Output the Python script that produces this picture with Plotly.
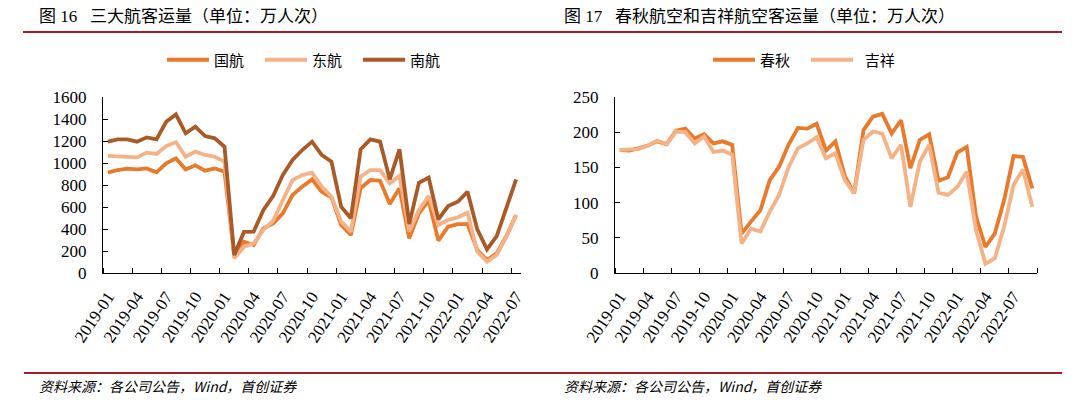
import plotly.graph_objects as go

W, H = 1077, 408
OFF = 8  # page body margin of the host page

# ---------------- data ----------------
months_left = [f"{y}-{m:02d}" for y in range(2019, 2023) for m in range(1, 13)][:43]   # 2019-01 .. 2022-07
months_right = [f"{y}-{m:02d}" for y in range(2019, 2023) for m in range(1, 13)][:45]  # 2019-01 .. 2022-09

air_china = [912, 936, 948, 942, 951, 915, 997, 1042, 942, 979, 930, 951, 921,
             160, 285, 254, 406, 451, 542, 709, 785, 851, 739, 688, 436, 345,
             770, 845, 839, 627, 770, 315, 542, 658, 294, 421, 445, 445, 209,
             118, 179, 336, 527]
china_eastern = [1064, 1057, 1057, 1051, 1094, 1082, 1154, 1191, 1057, 1103, 1073, 1057, 1012,
                 133, 239, 270, 391, 475, 664, 845, 891, 912, 785, 694, 467, 376,
                 876, 936, 936, 815, 882, 376, 573, 700, 436, 482, 506, 548, 194,
                 103, 164, 330, 527]
china_southern = [1194, 1215, 1215, 1194, 1233, 1215, 1375, 1442, 1270, 1330, 1245, 1224, 1148,
                  164, 373, 376, 573, 700, 891, 1027, 1118, 1194, 1073, 1012, 603, 497,
                  1124, 1215, 1194, 851, 1124, 445, 821, 867, 488, 609, 648, 739, 397,
                  215, 336, 588, 851]

spring = [175, 174, 177, 181, 187, 183, 202, 205, 191, 197, 184, 187, 182,
          56, 73, 89, 132, 151, 182, 206, 205, 212, 174, 187, 138, 113,
          203, 222, 226, 198, 217, 149, 189, 197, 131, 136, 171, 179, 80,
          37, 56, 104, 166, 165, 120]
juneyao = [175, 175, 176, 181, 188, 183, 201, 200, 184, 194, 172, 174, 168,
           42, 63, 59, 87, 111, 150, 177, 184, 193, 163, 170, 132, 113,
           189, 201, 198, 163, 182, 94, 158, 182, 114, 111, 122, 144, 61,
           13, 21, 66, 125, 147, 94]

left_names = ["国航", "东航", "南航"]
right_names = ["春秋", "\u00a0\u00a0吉祥"]
left_ticks = [0, 1600, 200]
right_ticks = [0, 250, 50]

title_left = "图 16\u00a0\u00a0\u00a0三大航客运量（单位：万人次）"
title_right = "图 17\u00a0\u00a0\u00a0春秋航空和吉祥航空客运量（单位：万人次）"
source_text = "资料来源：各公司公告，Wind，首创证券"

# ---------------- style ----------------
C_ORANGE = "#E97A2B"
C_LIGHT = "#F5B286"
C_BROWN = "#A95A27"
RED = "#A51C22"
SERIF = "Times New Roman, Liberation Serif, Noto Sans CJK SC, serif"
CJK = "Noto Sans CJK SC, sans-serif"

def px_x(p):
    return (p - OFF) / W

def px_y(p):
    return 1 - (p - OFF) / H

fig = go.Figure()

xl = list(range(len(months_left)))
xr = list(range(len(months_right)))

for name, vals, col in zip(left_names, [air_china, china_eastern, china_southern],
                           [C_ORANGE, C_LIGHT, C_BROWN]):
    fig.add_trace(go.Scatter(x=xl, y=vals, mode="lines", name=name,
                             line=dict(color=col, width=3.8),
                             xaxis="x", yaxis="y", legend="legend"))
for name, vals, col in zip(right_names, [spring, juneyao], [C_ORANGE, C_LIGHT]):
    fig.add_trace(go.Scatter(x=xr, y=vals, mode="lines", name=name,
                             line=dict(color=col, width=3.8),
                             xaxis="x2", yaxis="y2", legend="legend2"))

ydom = [px_y(273), px_y(97)]

def xaxis_cfg(n, labels, dom):
    centers = list(range(0, n, 3))
    bounds = [i - 0.5 for i in range(0, n + 1, 3)]
    return dict(domain=dom, range=[-0.5, n - 0.5], showgrid=False, zeroline=False,
                showline=True, linecolor="black", linewidth=1.3,
                tickmode="array", tickvals=centers, ticktext=[labels[i] for i in centers],
                ticks="", tickangle=-56, ticklabelstandoff=6, automargin=False,
                tickfont=dict(family=SERIF, size=17, color="black"),
                minor=dict(tickmode="array", tickvals=bounds, ticks="inside",
                           ticklen=5, tickwidth=1.3, tickcolor="black", showgrid=False),
                fixedrange=True)

def yaxis_cfg(t, anchor):
    return dict(domain=ydom, range=[t[0], t[1]], dtick=t[2], tick0=0,
                showgrid=False, zeroline=False, showline=True, linecolor="black",
                linewidth=1.3, ticks="inside", ticklen=5, tickwidth=1.3, tickcolor="black",
                ticklabelstandoff=12, automargin=False,
                tickfont=dict(family=SERIF, size=17, color="black"),
                anchor=anchor, fixedrange=True)

legend_common = dict(xanchor="left", yanchor="middle", orientation="h",
                     font=dict(family=CJK, size=15, color="black"),
                     bgcolor="rgba(0,0,0,0)", entrywidth=41, entrywidthmode="pixels",
                     itemwidth=42, tracegroupgap=0)

fig.update_layout(
    width=W, height=H,
    margin=dict(l=0, r=0, t=0, b=0, pad=0, autoexpand=False),
    paper_bgcolor="white", plot_bgcolor="white",
    xaxis=dict(**xaxis_cfg(len(months_left), months_left, [px_x(103), px_x(521)]), anchor="y"),
    yaxis=yaxis_cfg(left_ticks, "x"),
    xaxis2=dict(**xaxis_cfg(len(months_right), months_right, [px_x(615), px_x(1037)]), anchor="y2"),
    yaxis2=yaxis_cfg(right_ticks, "x2"),
    legend=dict(x=px_x(162), y=px_y(60), **legend_common),
    legend2=dict(x=px_x(708), y=px_y(60), **legend_common),
    showlegend=True,
)

# titles
for txt, x in [(title_left, 37), (title_right, 562)]:
    fig.add_annotation(text=txt, x=px_x(x), y=px_y(16), xref="paper", yref="paper",
                       xanchor="left", yanchor="middle", showarrow=False,
                       font=dict(family=SERIF, size=17, color="black"))
# source notes
for x in [37, 562]:
    fig.add_annotation(text=f"<i>{source_text}</i>", x=px_x(x), y=px_y(386),
                       xref="paper", yref="paper", xanchor="left", yanchor="middle",
                       showarrow=False, font=dict(family=CJK, size=14, color="black"))

# red rules
for yy, x0 in [(32, 23), (373, 24)]:
    fig.add_shape(type="line", xref="paper", yref="paper",
                  x0=px_x(x0), x1=px_x(1062), y0=px_y(yy), y1=px_y(yy),
                  line=dict(color=RED, width=2.2))

fig.write_html("out.html")
